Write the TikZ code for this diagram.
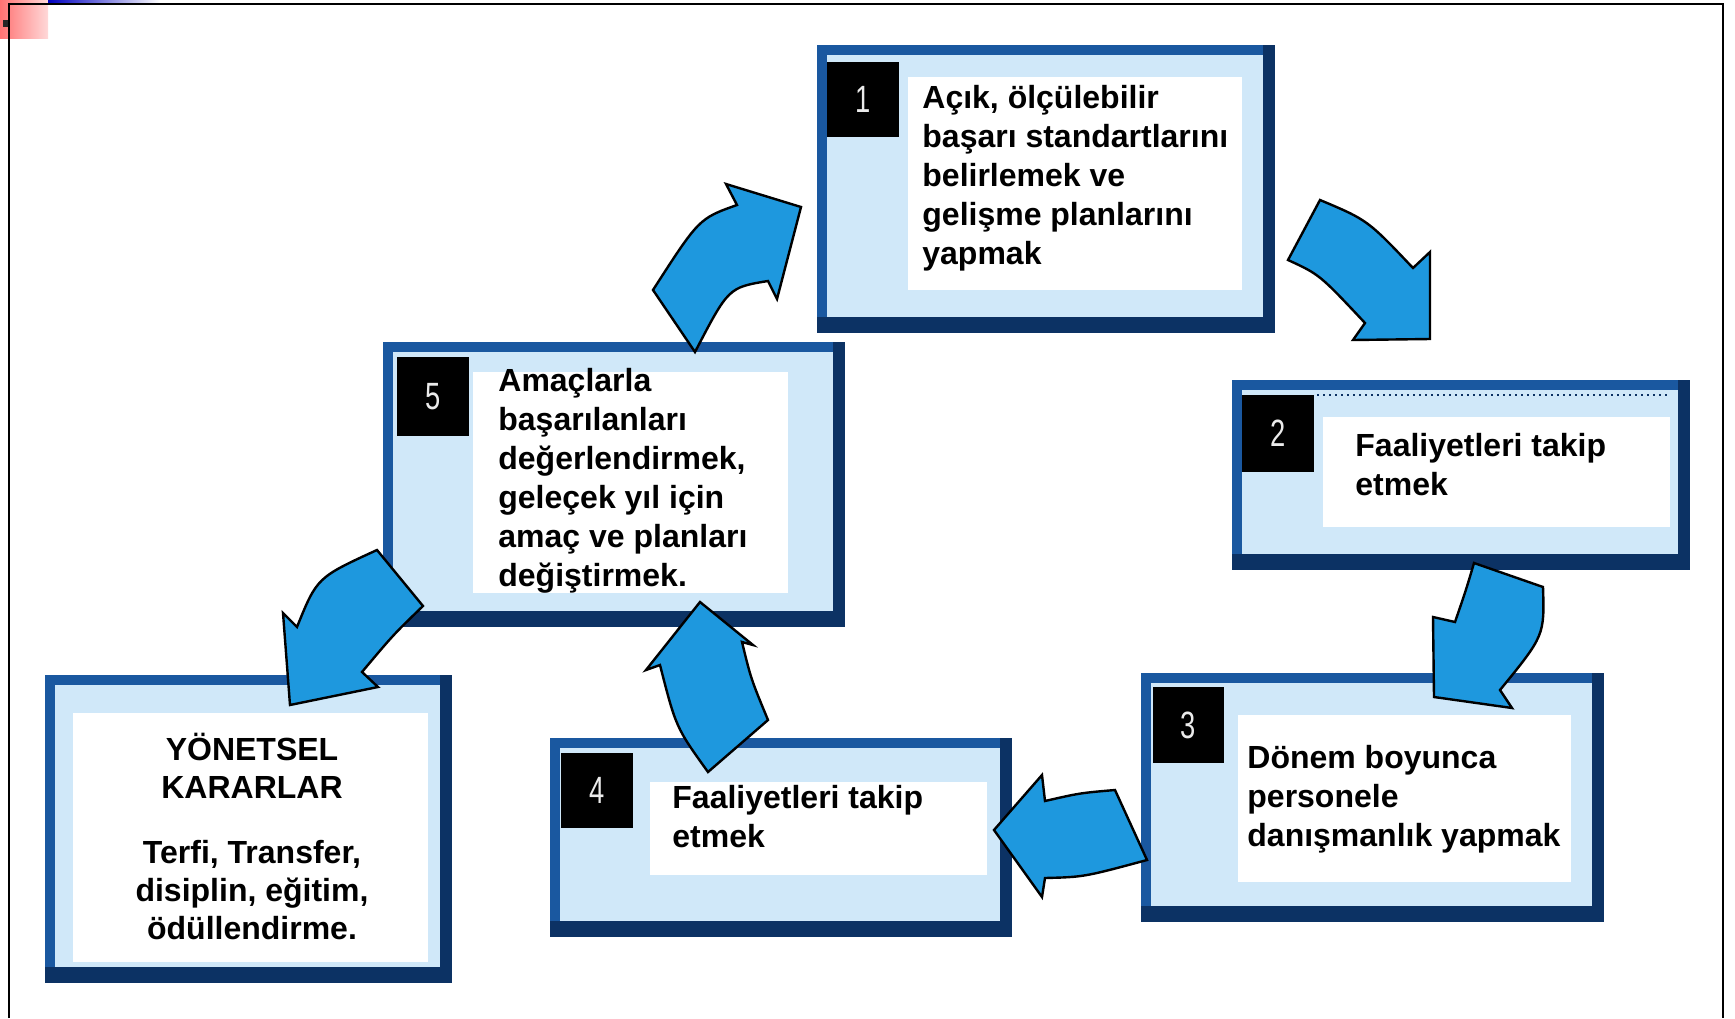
\documentclass[tikz,border=0pt]{standalone}
\usepackage{fontspec}
\setmainfont{Liberation Sans}
\begin{document}
\begin{tikzpicture}[x=0.5pt,y=-0.5pt]
\definecolor{bordblue}{RGB}{26,88,160}
\definecolor{borddark}{RGB}{12,50,100}
\definecolor{lightblue}{RGB}{208,232,249}
\definecolor{arrowblue}{RGB}{30,152,222}
\definecolor{numgrey}{RGB}{235,235,235}
\tikzset{
  txt/.style={anchor=base west, inner sep=0pt, align=left, font=\bfseries\fontsize{16}{19.5}\selectfont},
  ctxt/.style={anchor=base, inner sep=0pt, align=center, font=\bfseries\fontsize{16}{19}\selectfont},
  numtxt/.style={text=numgrey, inner sep=0pt, font=\fontsize{19}{19}\selectfont},
  barrow/.style={fill=arrowblue, draw=black, line width=1.2pt, line join=miter},
}
\newcommand{\panelbox}[8]{%
  \fill[bordblue] (#1,#2) rectangle (#3,#4);
  \fill[borddark] (#3-12,#2) rectangle (#3,#4);
  \fill[borddark] (#1,#4-16) rectangle (#3,#4);
  \fill[lightblue] (#1+10,#2+10) rectangle (#3-12,#4-16);
  \fill[white] (#5,#6) rectangle (#7,#8);
}
% canvas
\useasboundingbox (0,0) rectangle (1735,1018);
\fill[white] (0,0) rectangle (1735,1018);
% top-left slide remnants
\shade[left color=red!55!white, right color=red!15!white] (0,0) rectangle (48,38);
\shade[left color=blue!75!black, right color=white] (48,0) rectangle (160,3.5);
\fill[black!85] (3,20) rectangle (8,27);
\draw[black, line width=1pt] (9,1018) -- (9,4) -- (1723,4) -- (1723,1018);

% ---- boxes ----
% box 1
\panelbox{817}{45}{1275}{333}{908}{77}{1242}{290}
\fill[black] (827,62) rectangle (899,137);
\node[numtxt] (n1) at (863,99.5) {\scalebox{0.72}[1]{1}};
\node[txt] (t1) at (922,264) {Açık, ölçülebilir\\başarı standartlarını\\belirlemek ve\\gelişme planlarını\\yapmak};

% box 2
\panelbox{1232}{380}{1690}{570}{1323}{417}{1670}{527}
\draw[borddark, dotted, line width=1pt] (1317,395) -- (1668,395);
\fill[black] (1242,395) rectangle (1314,472);
\node[numtxt] (n2) at (1278,433.5) {\scalebox{0.72}[1]{2}};
\node[txt] (t2) at (1355,495) {Faaliyetleri takip\\etmek};

% box 3
\panelbox{1141}{673}{1604}{922}{1238}{715}{1571}{882}
\fill[black] (1153,687) rectangle (1224,763);
\node[numtxt] (n3) at (1188.5,725) {\scalebox{0.72}[1]{3}};
\node[txt] (t3) at (1247,846) {Dönem boyunca\\personele\\danışmanlık yapmak};

% box 4
\panelbox{550}{738}{1012}{937}{650}{782}{987}{875}
\fill[black] (561,753) rectangle (633,828);
\node[numtxt] (n4) at (597,790.5) {\scalebox{0.72}[1]{4}};
\node[txt] (t4) at (672,847) {Faaliyetleri takip\\etmek};

% box 5
\panelbox{383}{342}{845}{627}{473}{372}{788}{593}
\fill[black] (397,357) rectangle (469,436);
\node[numtxt] (n5) at (433,396.5) {\scalebox{0.72}[1]{5}};
\node[txt] (t5) at (498,586) {Amaçlarla\\başarılanları\\değerlendirmek,\\geleçek yıl için\\amaç ve planları\\değiştirmek.};

% box Y
\panelbox{45}{675}{452}{983}{73}{713}{428}{962}
\node[ctxt] (ty1) at (252,798) {YÖNETSEL\\KARARLAR};
\node[ctxt] (ty2) at (252,939) {Terfi, Transfer,\\disiplin, eğitim,\\ödüllendirme.};

% ---- block arrows ----
% 5 -> 1
\filldraw[barrow] (695,352) -- (653,290) .. controls (699,218.5) .. (737,205)
  -- (726,184) -- (801,207) -- (777,299) -- (768,281)
  .. controls (728.5,287.5) .. (695,352) -- cycle;
% 1 -> 2
\filldraw[barrow] (1288,260) -- (1320,200) .. controls (1367.5,220) .. (1413,268)
  -- (1430,252) -- (1430,339) -- (1353,340) -- (1365,323)
  .. controls (1319.5,274.5) .. (1288,260) -- cycle;
% 2 -> 3
\filldraw[barrow] (1474,563) -- (1543,587) .. controls (1544.5,635.5) .. (1500,690)
  -- (1512,708) -- (1434,697) -- (1433,617) -- (1455,622)
  .. controls (1466,590) .. (1474,563) -- cycle;
% 3 -> 4
\filldraw[barrow] (1115,790) -- (1147,860) .. controls (1084,877) .. (1045,878)
  -- (1042,897) -- (994,830) -- (1042,775) -- (1045,801)
  .. controls (1080,793) .. (1115,790) -- cycle;
% 4 -> 5
\filldraw[barrow] (708,772) -- (768,720) .. controls (751,679) .. (742,642)
  -- (753,645) -- (700,602) -- (646,670) -- (660,665)
  .. controls (676,727.5) .. (708,772) -- cycle;
% 5 -> Y
\filldraw[barrow] (377,550) -- (423,606) .. controls (393.5,634.5) .. (362,672)
  -- (378,687) -- (290,705) -- (283,613) -- (297,627)
  .. controls (317,577.5) .. (377,550) -- cycle;
\end{tikzpicture}
\end{document}
